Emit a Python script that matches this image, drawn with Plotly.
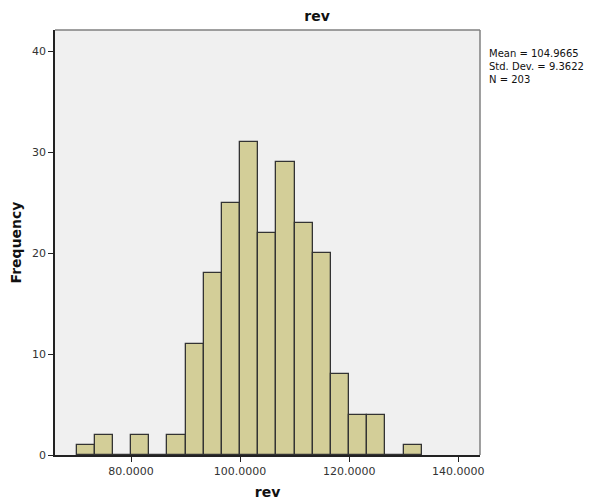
import plotly.graph_objects as go

# Data
bin_start = 70.0
bin_width = 10.0 / 3.0
counts = [1, 2, 0, 2, 0, 2, 11, 18, 25, 31, 22, 29, 23, 20, 8, 4, 4, 0, 1]
x_ticks = [80, 100, 120, 140]
x_tick_labels = ["80.0000", "100.0000", "120.0000", "140.0000"]
y_ticks = [0, 10, 20, 30, 40]
stats_text = ["Mean = 104.9665", "Std. Dev. = 9.3622", "N = 203"]

centers = [bin_start + bin_width * (i + 0.5) for i in range(len(counts))]

FONT = "DejaVu Sans"
OFF = 8  # page body margin in the browser
W, H = 597 - OFF, 504 - OFF
L, R, T, B = 55 - OFF, 117, 30 - OFF, 49

fig = go.Figure()
fig.add_trace(go.Bar(
    x=centers,
    y=counts,
    width=[bin_width] * len(counts),
    marker=dict(color="#D3CE98", line=dict(color="#333333", width=1.3)),
    hoverinfo="x+y",
    showlegend=False,
))

fig.update_layout(
    width=W,
    height=H,
    autosize=False,
    margin=dict(l=L, r=R, t=T, b=B, pad=0, autoexpand=False),
    paper_bgcolor="white",
    plot_bgcolor="#F0F0F0",
    font=dict(family=FONT, size=11, color="#333333"),
    bargap=0,
    title=dict(text="<b>rev</b>", x=(317 - OFF) / W, xanchor="center", xref="container",
               y=1 - (16 - OFF) / H, yanchor="middle", yref="container",
               font=dict(family=FONT, size=14, color="#111111"), automargin=False),
    xaxis=dict(
        automargin=False,
        range=[66.05, 144.0],
        tickvals=x_ticks,
        ticktext=x_tick_labels,
        ticks="outside",
        ticklen=5,
        tickcolor="#222222",
        showgrid=False,
        zeroline=False,
        showline=True,
        linecolor="#222222",
        linewidth=1.5,
        tickfont=dict(family=FONT, size=11, color="#333333"),
        title=dict(text="<b>rev</b>", font=dict(family=FONT, size=14, color="#111111"), standoff=10),
    ),
    yaxis=dict(
        automargin=False,
        range=[0, 42.08],
        tickvals=y_ticks,
        ticks="outside",
        ticklen=5,
        tickcolor="#222222",
        showgrid=False,
        zeroline=False,
        showline=True,
        linecolor="#222222",
        linewidth=1.5,
        tickfont=dict(family=FONT, size=11, color="#333333"),
        title=dict(text="<b>Frequency</b>", font=dict(family=FONT, size=14, color="#111111"), standoff=8),
    ),
)

# gray frame on top and right
fig.add_shape(type="line", xref="paper", yref="paper", x0=0, x1=1, y0=1, y1=1,
              line=dict(color="#808080", width=1.5))
fig.add_shape(type="line", xref="paper", yref="paper", x0=1, x1=1, y0=0, y1=1,
              line=dict(color="#808080", width=1.5))

plot_w = W - L - R
plot_h = H - T - B
fig.add_annotation(
    xref="paper", yref="paper", x=(487 - 55) / plot_w, y=1 - (66.5 - 30) / plot_h,
    xanchor="left", yanchor="middle",
    text="<br>".join(stats_text), showarrow=False, align="left",
    font=dict(family=FONT, size=10, color="#111111"),
)

fig.write_html("out.html")
